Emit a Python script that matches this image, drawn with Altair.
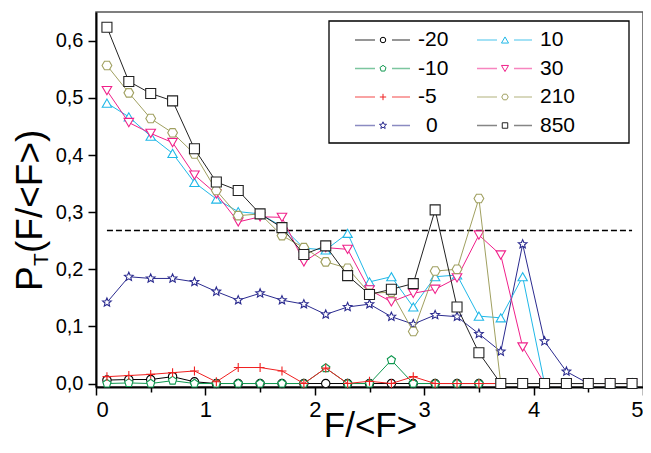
import altair as alt
import pandas as pd

FONT = "Liberation Sans"

x_vals = [0.1, 0.3, 0.5, 0.7, 0.9, 1.1, 1.3, 1.5, 1.7, 1.9, 2.1, 2.3, 2.5,
          2.7, 2.9, 3.1, 3.3, 3.5, 3.7, 3.9, 4.1, 4.3, 4.5, 4.7, 4.9]

series_names = ["-20", "-10", "-5", "0", "10", "30", "210", "850"]

s_m20 = [0.006, 0.007, 0.007, 0.012, 0.003, 0, 0, 0, 0, 0, 0, 0, 0,
         0, 0, 0, 0, 0, 0, 0, 0, 0, 0, 0, 0]
s_m10 = [0.0, 0.001, 0.0, 0.005, 0.0, 0, 0, 0, 0, 0, 0.027, 0, 0,
         0.041, 0, 0, 0, 0, 0, 0, 0, 0, 0, 0, 0]
s_m5 = [0.012, 0.014, 0.016, 0.019, 0.022, 0.003, 0.028, 0.028, 0.022, 0.0, 0.027, 0.0, 0.004,
        0.0, 0.012, 0, 0, 0, 0, 0, 0, 0, 0, 0, 0]
s_0 = [0.142, 0.187, 0.184, 0.184, 0.178, 0.161, 0.146, 0.158, 0.146, 0.139, 0.121, 0.134, 0.139,
       0.117, 0.104, 0.120, 0.117, 0.087, 0.056, 0.244, 0.074, 0.021, 0, 0, 0]
s_10 = [0.491, 0.467, 0.433, 0.403, 0.352, 0.323, 0.301, 0.297, 0.275, 0.237, 0.234, 0.263, 0.178,
        0.187, 0.134, 0.187, 0.190, 0.118, 0.115, 0.187, 0, 0, 0, 0, 0]
s_30 = [0.513, 0.457, 0.438, 0.422, 0.365, 0.332, 0.283, 0.292, 0.291, 0.213, 0.238, 0.235, 0.164,
        0.143, 0.158, 0.165, 0.185, 0.260, 0.225, 0.064, 0, 0, 0, 0, 0]
s_210 = [0.557, 0.509, 0.464, 0.439, 0.402, 0.338, 0.294, 0.297, 0.259, 0.238, 0.213, 0.202, 0.158,
         0.160, 0.091, 0.197, 0.200, 0.324, 0, 0, 0, 0, 0, 0, 0]
s_850 = [0.624, 0.529, 0.508, 0.495, 0.411, 0.353, 0.338, 0.297, 0.273, 0.226, 0.241, 0.189, 0.156,
         0.165, 0.175, 0.304, 0.134, 0.054, 0, 0, 0, 0, 0, 0, 0]
series_values = [s_m20, s_m10, s_m5, s_0, s_10, s_30, s_210, s_850]

threshold = 0.268
threshold_x = [0.1, 4.9]

colors = ["#000000", "#109850", "#F02020", "#2B2B8F", "#20B8E8", "#F0208A", "#A0A060", "#222222"]
shapes = [
    "circle",
    "M0,-1L0.951,-0.309L0.588,0.809L-0.588,0.809L-0.951,-0.309Z",
    "M-1,0L1,0M0,-1L0,1",
    "M0,-1L0.264,-0.364L0.951,-0.309L0.428,0.139L0.588,0.809L0,0.45L-0.588,0.809L-0.428,0.139L-0.951,-0.309L-0.264,-0.364Z",
    "triangle-up",
    "triangle-down",
    "M-1,0L-0.5,-0.866L0.5,-0.866L1,0L0.5,0.866L-0.5,0.866Z",
    "square",
]
sizes = [70, 100, 100, 130, 125, 125, 105, 81]
leg_sizes = [30, 40, 40, 55, 50, 50, 42, 30]

rows = []
for name, vals in zip(series_names, series_values):
    for xv, yv in zip(x_vals, vals):
        rows.append({"series": name, "x": xv, "y": yv})
df = pd.DataFrame(rows)

W, H = 547, 375
xscale = alt.Scale(domain=[0, 5], nice=False, zero=False)
yscale = alt.Scale(domain=[-0.0061, 0.6506], nice=False, zero=False)
color_scale = alt.Scale(domain=series_names, range=colors)
shape_scale = alt.Scale(domain=series_names, range=shapes)
size_scale = alt.Scale(domain=series_names, range=sizes)

x_axis = alt.Axis(
    values=[0, 0.5, 1, 1.5, 2, 2.5, 3, 3.5, 4, 4.5, 5],
    labelExpr="round(datum.value*2)%2==0 ? format(datum.value,'d') : ''",
    tickSize={"condition": {"test": "round(datum.value*2)%2==0", "value": 8}, "value": 5},
    labelFontSize=22, labelPadding=4,
    title="F/<F>", titleFontSize=35, titleFontWeight="normal", titleFont=FONT,
    titleBaseline="alphabetic", titleY=49, titleX=274, titleAlign="center", titleColor="black",
)
y_axis = alt.Axis(
    values=[0, 0.05, 0.1, 0.15, 0.2, 0.25, 0.3, 0.35, 0.4, 0.45, 0.5, 0.55, 0.6],
    labelExpr="round(datum.value*20)%2==0 ? replace(format(datum.value,'.1f'),'.',',') : ''",
    tickSize={"condition": {"test": "round(datum.value*20)%2==0", "value": 8}, "value": 5},
    labelFontSize=20, labelPadding=5, title=None,
)

layers = []
base = alt.Chart(df).mark_point(opacity=0).encode(
    x=alt.X("x:Q", scale=xscale, axis=x_axis),
    y=alt.Y("y:Q", scale=yscale, axis=y_axis),
)
layers.append(base)

thr_df = pd.DataFrame({"x": [threshold_x[0]], "x2": [threshold_x[1]], "y": [threshold]})
layers.append(
    alt.Chart(thr_df).mark_rule(color="black", strokeWidth=1.3, strokeDash=[6, 3]).encode(
        x=alt.X("x:Q", scale=xscale), x2="x2:Q", y=alt.Y("y:Q", scale=yscale)
    )
)

for name in series_names:
    sub = df[df.series == name]
    layers.append(
        alt.Chart(sub).mark_line(strokeWidth=1).encode(
            x=alt.X("x:Q", scale=xscale), y=alt.Y("y:Q", scale=yscale),
            color=alt.Color("series:N", scale=color_scale, legend=None),
        )
    )
    layers.append(
        alt.Chart(sub).mark_point(filled=True, fill="white", strokeWidth=1.1, opacity=1).encode(
            x=alt.X("x:Q", scale=xscale), y=alt.Y("y:Q", scale=yscale),
            stroke=alt.Stroke("series:N", scale=color_scale, legend=None),
            shape=alt.Shape("series:N", scale=shape_scale, legend=None),
            size=alt.Size("series:N", scale=size_scale, legend=None),
        )
    )

# custom legend (pixel layout)
box_df = pd.DataFrame({"a": [0]})
layers.append(
    alt.Chart(box_df).mark_rect(fill="white", stroke="black", strokeWidth=1.3).encode(
        x=alt.value(233), x2=alt.value(533), y=alt.value(9), y2=alt.value(131)
    )
)
row_y = [28, 56.5, 85, 113.5]
col_x = [259, 381]
leg_rows = []
for i, name in enumerate(series_names):
    c, r = i // 4, i % 4
    lx = col_x[c]
    leg_rows.append({
        "series": name, "y": row_y[r],
        "a1": lx, "a2": lx + 20, "s": lx + 28, "b1": lx + 37, "b2": lx + 55,
        "t": lx + 63 + (8 if name == "0" else 0),
        "lsize": leg_sizes[i],
    })
leg_df = pd.DataFrame(leg_rows)
for xa, xb in [("a1", "a2"), ("b1", "b2")]:
    layers.append(
        alt.Chart(leg_df).mark_rule(strokeWidth=1.5, opacity=0.55).encode(
            x=alt.X(f"{xa}:Q", scale=None), x2=f"{xb}:Q",
            y=alt.Y("y:Q", scale=None),
            color=alt.Color("series:N", scale=color_scale, legend=None),
        )
    )
layers.append(
    alt.Chart(leg_df).mark_point(filled=True, fill="white", strokeWidth=1, opacity=1).encode(
        x=alt.X("s:Q", scale=None), y=alt.Y("y:Q", scale=None),
        stroke=alt.Stroke("series:N", scale=color_scale, legend=None),
        shape=alt.Shape("series:N", scale=shape_scale, legend=None),
        size=alt.Size("lsize:Q", scale=None, legend=None),
    )
)
layers.append(
    alt.Chart(leg_df).mark_text(align="left", baseline="middle", font=FONT, fontSize=21, color="black").encode(
        x=alt.X("t:Q", scale=None), y=alt.Y("y:Q", scale=None), text="series:N"
    )
)

# y axis title with subscript
TF = 37
layers.append(alt.Chart(box_df).mark_text(angle=270, align="left", baseline="alphabetic", font=FONT,
                                           fontSize=TF, color="black").encode(
    x=alt.value(-54), y=alt.value(279), text=alt.value("P")))
layers.append(alt.Chart(box_df).mark_text(angle=270, align="left", baseline="alphabetic", font=FONT,
                                           fontSize=21, color="black").encode(
    x=alt.value(-48), y=alt.value(254), text=alt.value("T")))
layers.append(alt.Chart(box_df).mark_text(angle=270, align="left", baseline="alphabetic", font=FONT,
                                           fontSize=TF, color="black").encode(
    x=alt.value(-54), y=alt.value(241), text=alt.value("(F/<F>)")))

chart = alt.layer(*layers).properties(
    width=W, height=H,
    autosize=alt.AutoSizeParams(type="none"),
    padding={"left": 88, "top": 4, "right": 0, "bottom": 58},
).configure_view(stroke="#555555", strokeWidth=1.5).configure_axis(
    domainColor="black", domainWidth=2, tickColor="black", tickWidth=1.5,
    labelFont=FONT, labelColor="black", grid=False,
)

chart.save("out.html", embed_options={"renderer": "svg", "actions": False})
